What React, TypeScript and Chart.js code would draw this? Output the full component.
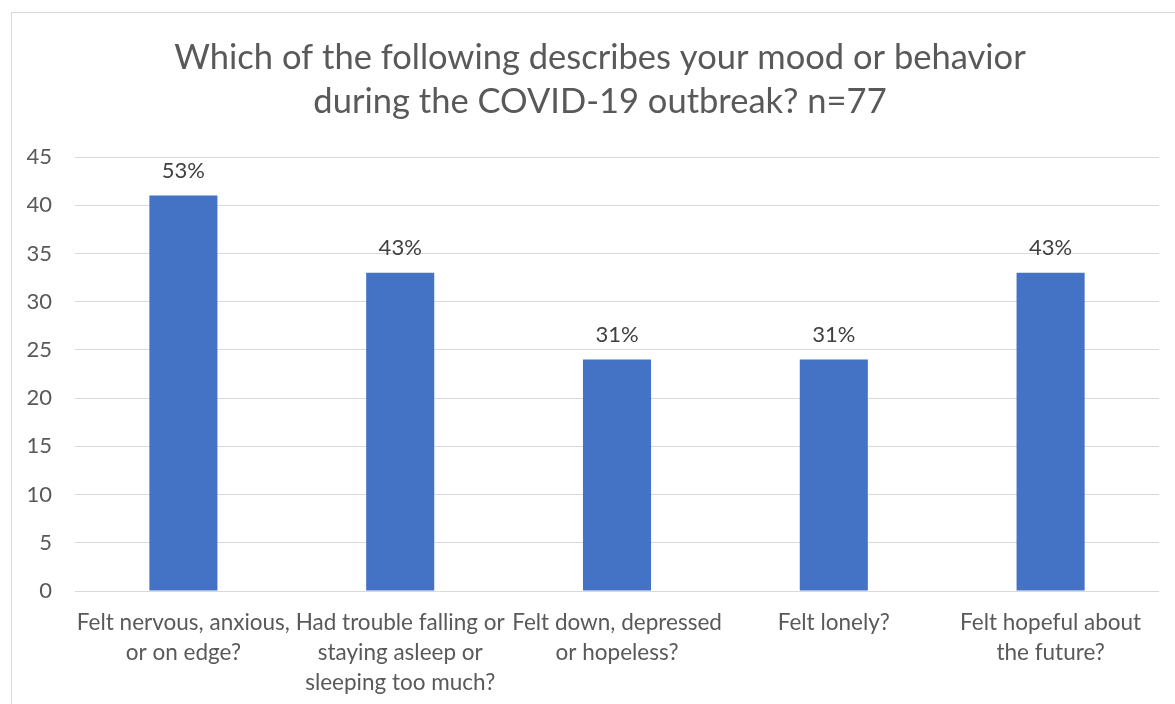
import React, { useEffect, useRef } from "react";
import { Chart, registerables } from "chart.js";

Chart.register(...registerables);

const TITLE_LINES = [
  "Which of the following describes your mood or behavior",
  "during the COVID-19 outbreak? n=77",
];
const CATEGORIES: string[][] = [
  ["Felt nervous, anxious,", "or on edge?"],
  ["Had trouble falling or", "staying asleep or", "sleeping too much?"],
  ["Felt down, depressed", "or hopeless?"],
  ["Felt lonely?"],
  ["Felt hopeful about", "the future?"],
];
const COUNTS = [41, 33, 24, 24, 33];
const PERCENT_LABELS = ["53%", "43%", "31%", "31%", "43%"];
const Y_MIN = 0;
const Y_MAX = 45;
const Y_STEP = 5;

const FONT = "Lato, 'Open Sans', sans-serif";

const percentLabelPlugin = {
  id: "percentLabels",
  afterDatasetsDraw(chart: any) {
    const ctx = chart.ctx;
    const meta = chart.getDatasetMeta(0);
    ctx.save();
    ctx.font = `22px ${FONT}`;
    ctx.fillStyle = "#404040";
    ctx.textAlign = "center";
    ctx.textBaseline = "middle";
    meta.data.forEach((bar: any, i: number) => {
      ctx.fillText(PERCENT_LABELS[i], bar.x, bar.y - 25);
    });
    ctx.restore();
  },
};

export default function App() {
  const ref = useRef<HTMLCanvasElement | null>(null);

  useEffect(() => {
    if (!ref.current) return;
    const chart = new Chart(ref.current, {
      type: "bar",
      data: {
        labels: CATEGORIES,
        datasets: [
          {
            data: COUNTS,
            backgroundColor: "#4472C4",
            borderWidth: 0,
            categoryPercentage: 1,
            barPercentage: 0.314,
          },
        ],
      },
      options: {
        animation: false,
        responsive: true,
        maintainAspectRatio: false,
        layout: { padding: { left: 0, right: 0, top: 0, bottom: 0 } },
        plugins: {
          legend: { display: false },
          tooltip: { enabled: false },
          title: {
            display: true,
            text: TITLE_LINES,
            color: "#595959",
            font: { family: FONT, size: 34.5, weight: "normal", lineHeight: 44 / 34.5 },
            padding: { top: 23, bottom: 33 },
          },
        },
        scales: {
          x: {
            grid: { display: false, drawTicks: false },
            border: { display: false },
            ticks: {
              color: "#595959",
              font: { family: FONT, size: 22.5, lineHeight: 30 / 22.5 },
              padding: 17,
              maxRotation: 0,
              autoSkip: false,
            },
            afterFit: (scale: any) => {
              scale.height = 142;
              scale.paddingLeft = 0;
              scale.paddingRight = 0;
            },
          },
          y: {
            min: Y_MIN,
            max: Y_MAX,
            grid: { color: "#d9d9d9", lineWidth: 1, drawTicks: false },
            border: { display: false },
            ticks: {
              stepSize: Y_STEP,
              color: "#595959",
              font: { family: FONT, size: 22 },
              padding: 23,
            },
            afterFit: (scale: any) => {
              scale.width = 63;
            },
          },
          spacer: {
            type: "linear",
            position: "right",
            display: true,
            grid: { display: false, drawTicks: false },
            border: { display: false },
            ticks: { display: false },
            afterFit: (scale: any) => {
              scale.width = 29;
            },
          },
        },
      },
      plugins: [percentLabelPlugin],
    });
    return () => chart.destroy();
  }, []);

  return (
    <div
      style={{
        position: "fixed",
        left: 0,
        top: 0,
        width: "100vw",
        height: "100vh",
        overflow: "hidden",
        background: "#ffffff",
      }}
    >
      <div
        style={{
          position: "absolute",
          left: 11,
          top: 12,
          width: 1176,
          height: 720,
          border: "1px solid #d9d9d9",
        }}
      >
        <canvas ref={ref} />
      </div>
    </div>
  );
}
